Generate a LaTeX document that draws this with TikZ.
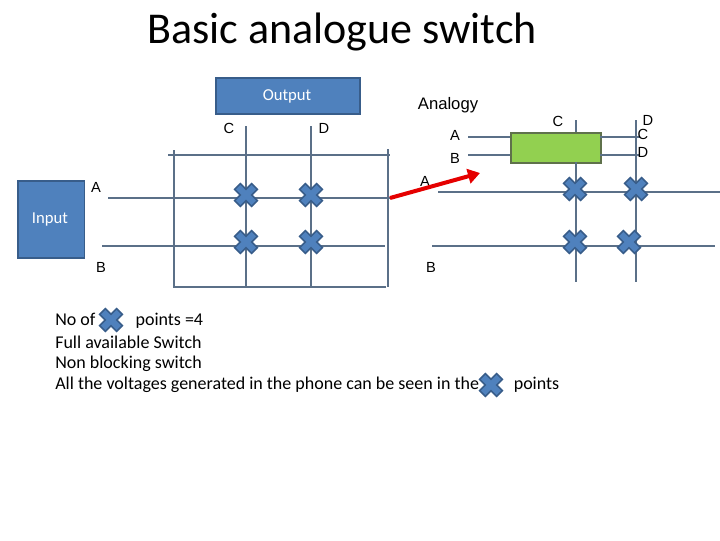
\documentclass[tikz,border=0pt]{standalone}
\usepackage{fontspec}
\setmainfont{Carlito}
\newfontfamily\arialf{Liberation Sans}
\usetikzlibrary{arrows.meta}

\definecolor{wirec}{HTML}{5B7088}
\definecolor{boxfill}{HTML}{4F81BD}
\definecolor{boxline}{HTML}{385D8A}
\definecolor{greenfill}{HTML}{92D050}

\tikzset{
  wire/.style={draw=wirec, line width=0.8pt},
  boxblue/.style={draw=boxline, fill=boxfill, line width=1.2pt},
  lbl/.style={font=\arialf\fontsize{11}{12}\selectfont},
  body/.style={font=\fontsize{13.5}{15}\selectfont, anchor=west, inner sep=0pt},
}

% switch point cross
\newcommand\swpoint[2]{%
  \begin{scope}[shift={(#1,#2)}, rotate=45]
    \filldraw[fill=boxfill, draw=boxline, line width=1.2pt]
      (-12,-4) -- (-4,-4) -- (-4,-12) -- (4,-12) -- (4,-4) -- (12,-4) --
      (12,4) -- (4,4) -- (4,12) -- (-4,12) -- (-4,4) -- (-12,4) -- cycle;
  \end{scope}}

\begin{document}
\begin{tikzpicture}[x=0.75pt, y=-0.75pt]
\useasboundingbox (0,0) rectangle (720,540);

\node[font=\fontsize{33}{36}\selectfont] (title) at (342,32) {Basic analogue switch};

% left grid
\node[boxblue, minimum width=108pt, minimum height=27pt, anchor=north west]
  (out) at (215,77) {};
\node[text=white, font=\fontsize{12.5}{14}\selectfont] (outtxt) at (287,96) {Output};
\node[boxblue, minimum width=50pt, minimum height=58pt, anchor=north west]
  (inp) at (17,180) {};
\node[text=white, font=\fontsize{12.5}{14}\selectfont] (inptxt) at (50,219) {Input};

\draw[wire] (174,150) -- (174,287);
\draw[wire] (388,149) -- (388,287);
\draw[wire] (168,155) -- (390,155);
\draw[wire] (173,287) -- (386,287);
\draw[wire] (246,126) -- (246,287);
\draw[wire] (311,126) -- (311,287);
\draw[wire] (108,198) -- (390,198);
\draw[wire] (102,246) -- (385,246);

\node[lbl] (la) at (96,187) {A};
\node[lbl] (lb) at (101,267) {B};
\node[lbl] (lc) at (229,128) {C};
\node[lbl] (ld) at (324,128) {D};

\swpoint{246}{195}
\swpoint{311}{195}
\swpoint{246}{242}
\swpoint{311}{242}

% analogy
\node[font=\arialf\fontsize{12.5}{14}\selectfont] (anl) at (448,105) {Analogy};
\node[boxblue, fill=greenfill, draw=black!50!greenfill!60!gray,
  minimum width=67.5pt, minimum height=22.5pt, anchor=north west] (grn) at (510,132) {};
\draw[wire] (468,137) -- (510,137);
\draw[wire] (468,155) -- (510,155);
\draw[wire] (600,137) -- (640,137);
\draw[wire] (600,155) -- (640,155);
\draw[wire] (576,120) -- (576,132);
\draw[wire] (576,162) -- (576,282);
\draw[wire] (636,120) -- (636,282);
\draw[wire] (438,192) -- (720,192);
\draw[wire] (432,246) -- (715,246);

\node[lbl] (ra) at (455,135) {A};
\node[lbl] (rb) at (455,158) {B};
\node[lbl] (rc) at (558,121) {C};
\node[lbl] (rd1) at (648,120) {D};
\node[lbl] (rc2) at (643,134) {C};
\node[lbl] (rd2) at (643,152) {D};
\node[lbl] (ra2) at (425,181) {A};
\node[lbl] (rb2) at (431,267) {B};

\swpoint{575}{189}
\swpoint{636}{189}
\swpoint{575}{242}
\swpoint{629}{242}

\coordinate (arrS) at (390,198);
\coordinate (arrE) at (480,173);
\draw[red!90!black, line width=3pt, -{Triangle[length=9pt,width=11pt]}] (arrS) -- (arrE);

% text
\node[body] (t1) at (55,321) {No of \hspace{24pt} points =4};
\swpoint{111}{320}
\node[body] (t2) at (55,342) {Full available Switch};
\node[body] (t3) at (55,364) {Non blocking switch};
\node[body] (t4) at (55,385) {All the voltages generated in the phone can be seen in the \hspace{20pt} points};
\swpoint{491}{385}
\end{tikzpicture}
\end{document}
